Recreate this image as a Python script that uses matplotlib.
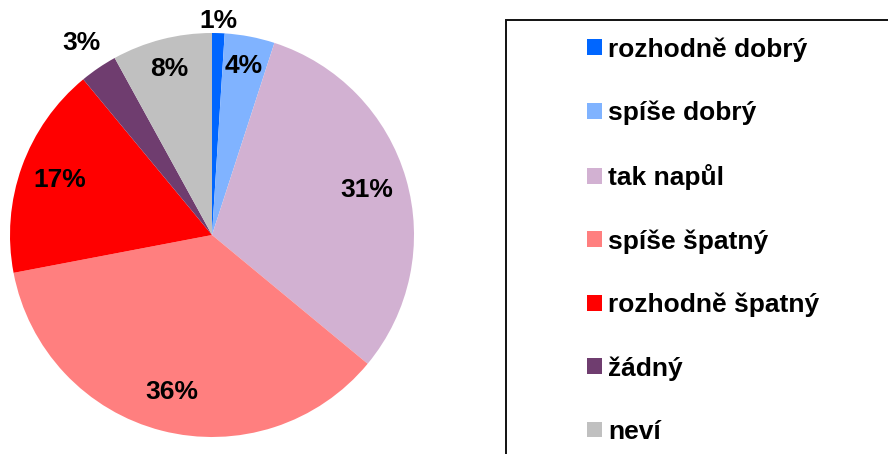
import matplotlib.pyplot as plt
from matplotlib.patches import Rectangle

# data
categories = ["rozhodně dobrý", "spíše dobrý", "tak napůl", "spíše špatný",
              "rozhodně špatný", "žádný", "neví"]
shares = [1, 4, 31, 36, 17, 3, 8]
colors = ["#0066FF", "#80B3FF", "#D2B1D2", "#FF7F7F", "#FF0000", "#6F3D6F", "#C0C0C0"]

plt.rcParams['font.family'] = ['Liberation Sans', 'DejaVu Sans']

fig = plt.figure(figsize=(8.88, 4.54), dpi=100)
ax = fig.add_axes([10/888, 17/454, 404/888, 404/454])

wedges, texts, autotexts = ax.pie(shares, colors=colors, startangle=90, counterclock=False,
                                  autopct="%1.0f%%", pctdistance=0.8,
                                  textprops=dict(fontsize=19, fontweight="bold", color="black"))
ax.set_aspect("equal")
ax.set_xlim(-1, 1)
ax.set_ylim(-1, 1)

# label distance from centre, by slice size
for t, v in zip(autotexts, shares):
    x, y = t.get_position()
    if v == 1:
        r = 1.06
    elif v <= 3:
        r = 1.15
    elif v < 10:
        r = 0.85
    else:
        r = 0.8
    t.set_position((x / 0.8 * r, y / 0.8 * r))

# legend frame (clipped by the figure edge)
fig.patches.append(Rectangle((506/888, -0.1), 1.0, (454-20)/454 + 0.1,
                             transform=fig.transFigure, fill=False,
                             edgecolor="#111111", lw=1.4))

leg = fig.legend(wedges, categories, loc="upper left",
                 bbox_to_anchor=(587/888, (454-37)/454),
                 frameon=False, borderpad=0, borderaxespad=0,
                 handlelength=0.55, handleheight=0.55, handletextpad=0.25,
                 labelspacing=1.48,
                 prop=dict(size=19, weight="bold"))

fig.savefig("out.png", dpi=100)
